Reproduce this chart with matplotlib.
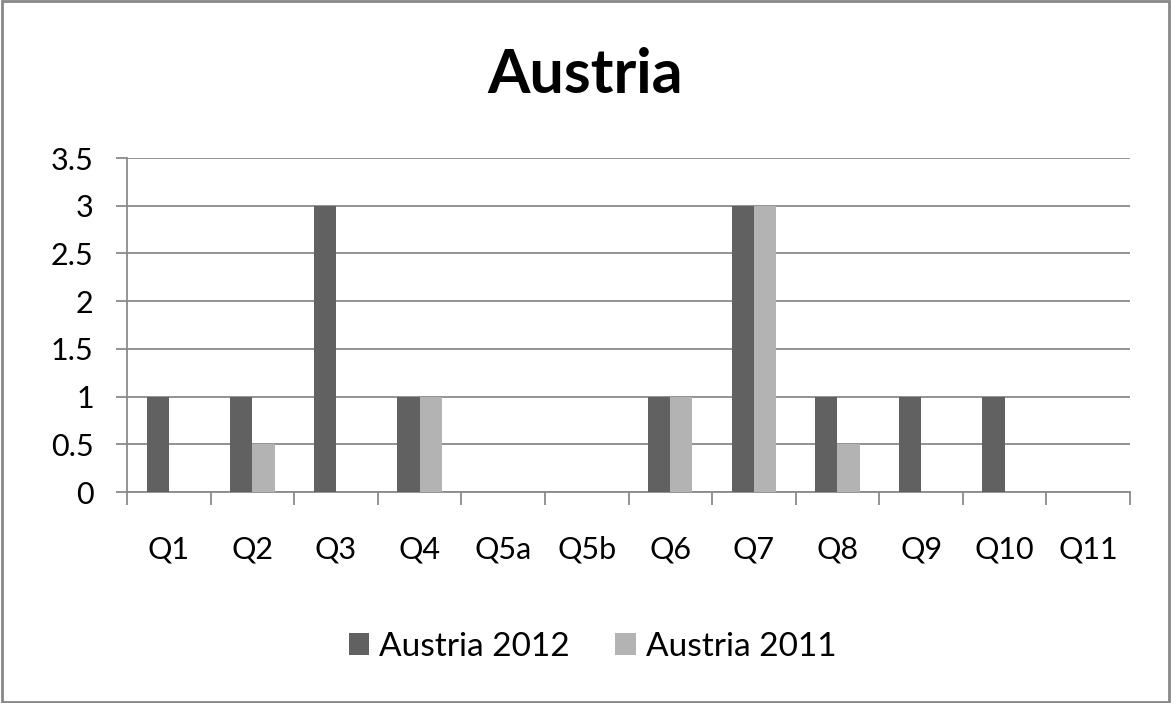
import numpy as np
import matplotlib
matplotlib.use("Agg")
import matplotlib.pyplot as plt
from matplotlib.patches import Rectangle

plt.rcParams['font.family'] = ['Lato', 'DejaVu Sans']

categories = ["Q1", "Q2", "Q3", "Q4", "Q5a", "Q5b", "Q6", "Q7", "Q8", "Q9", "Q10", "Q11"]
austria_2012 = [1, 1, 3, 1, 0, 0, 1, 3, 1, 1, 1, 0]
austria_2011 = [0, 0.5, 0, 1, 0, 0, 1, 3, 0.5, 0, 0, 0]
yticks = [0, 0.5, 1, 1.5, 2, 2.5, 3, 3.5]
ytick_labels = ["0", "0.5", "1", "1.5", "2", "2.5", "3", "3.5"]

dark = "#616161"
light = "#b3b3b3"
grid = "#8a8a8a"

fig = plt.figure(figsize=(11.71, 7.03), dpi=100)
ax = fig.add_axes([0.1085, 0.3001, 0.8565, 0.4751])

x = np.arange(len(categories))
w = 0.265
ax.bar(x - w / 2, austria_2012, w, color=dark, label="Austria 2012", zorder=3)
ax.bar(x + w / 2, austria_2011, w, color=light, label="Austria 2011", zorder=3)

ax.set_xlim(-0.5, len(categories) - 0.5)
ax.set_ylim(0, 3.5)
ax.set_yticks(yticks)
ax.set_yticklabels(ytick_labels, fontsize=22)
ax.yaxis.grid(True, color=grid, linewidth=1.3, zorder=0)

# labels sit at category centres, ticks at the boundaries
ax.set_xticks(x)
ax.set_xticklabels(categories, fontsize=22)
ax.set_xticks(np.arange(len(categories) + 1) - 0.5, minor=True)
ax.tick_params(axis="x", which="major", length=0, pad=31)
ax.tick_params(axis="x", which="minor", length=9, width=1.3, color=grid, direction="out")
ax.tick_params(axis="y", length=8, width=1.3, color=grid, pad=16)

for s in ["top", "right"]:
    ax.spines[s].set_visible(False)
for s in ["left", "bottom"]:
    ax.spines[s].set_color(grid)
    ax.spines[s].set_linewidth(1.3)

fig.text(0.5, 0.868, "Austria", ha="center", va="baseline", fontsize=44, fontweight="bold")

fig.legend(loc="center", bbox_to_anchor=(0.506, 0.08), ncol=2, frameon=False, fontsize=24,
           handlelength=0.62, handleheight=0.62, handletextpad=0.3, columnspacing=1.36)

fig.patches.append(Rectangle((0.002, 0.002), 0.996, 0.996, transform=fig.transFigure,
                             fill=False, edgecolor="#888888", linewidth=2))

fig.savefig("out.png", dpi=100)
